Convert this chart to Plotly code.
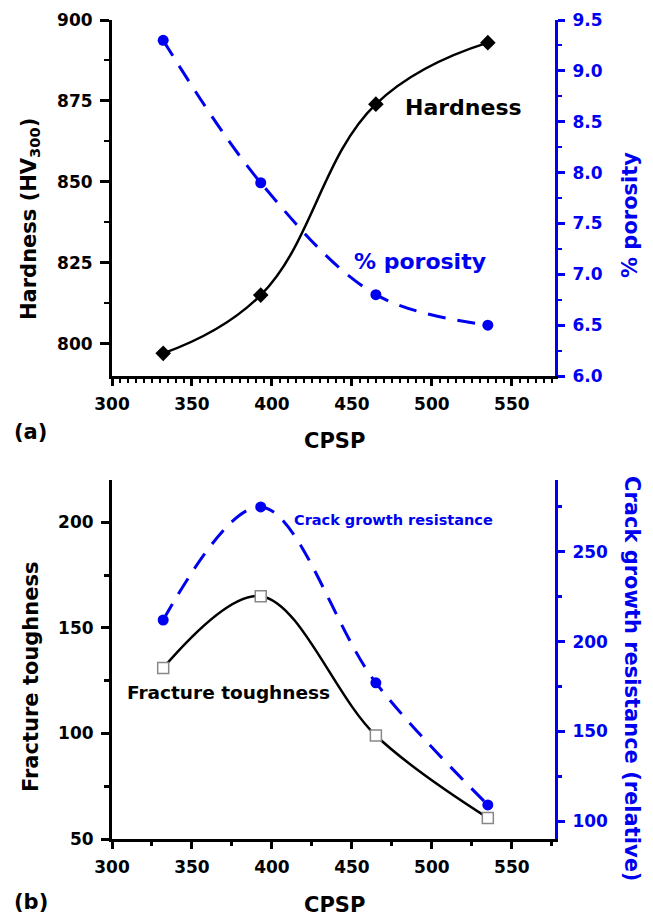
import plotly.graph_objects as go

# ---- data ----
cpsp = [332, 393, 465, 535]
hardness = [797, 815, 874, 893]
porosity = [9.3, 7.9, 6.8, 6.5]
fracture_toughness = [131, 165, 99, 60]
crack_growth = [212, 275, 177, 109]

x_ticks = [300, 350, 400, 450, 500, 550]

W, H = 653, 916
BLUE = "#0000F0"
FONT = "DejaVu Sans, Liberation Sans, Arial, sans-serif"

def px_x(p):
    return p / W

def px_y(p):
    return 1 - p / H

xdom = [px_x(112), px_x(555)]
ya_dom = [px_y(376), px_y(20)]
yb_dom = [px_y(839), px_y(480)]

fig = go.Figure()

# panel (a)
fig.add_trace(go.Scatter(x=cpsp, y=hardness, xaxis="x", yaxis="y",
                         mode="lines+markers", line=dict(color="black", width=2.5, shape="spline", smoothing=1.2),
                         marker=dict(symbol="diamond", size=12, color="black"), showlegend=False))
fig.add_trace(go.Scatter(x=cpsp, y=porosity, xaxis="x", yaxis="y2",
                         mode="lines+markers", line=dict(color=BLUE, width=3, shape="spline", dash="18px,12px"),
                         marker=dict(symbol="circle", size=11, color=BLUE), showlegend=False))
# panel (b)
fig.add_trace(go.Scatter(x=cpsp, y=fracture_toughness, xaxis="x2", yaxis="y3",
                         mode="lines+markers", line=dict(color="black", width=2.5, shape="spline"),
                         marker=dict(symbol="square", size=11, color="white", line=dict(color="#888888", width=1.5)),
                         showlegend=False))
fig.add_trace(go.Scatter(x=cpsp, y=crack_growth, xaxis="x2", yaxis="y4",
                         mode="lines+markers", line=dict(color=BLUE, width=3, shape="spline", dash="18px,12px"),
                         marker=dict(symbol="circle", size=11, color=BLUE), showlegend=False))

tickfont = dict(family=FONT, size=17, color="black", weight="bold")
tickfont_b = dict(family=FONT, size=17, color=BLUE, weight="bold")

xcommon = dict(range=[300, 577], tickvals=x_ticks, showgrid=False, zeroline=False, automargin=False,
               showline=True, linecolor="black", linewidth=3, tickcolor="black", tickwidth=2.5)

layout = dict(
    width=W, height=H, margin=dict(l=0, r=0, t=0, b=0, autoexpand=False),
    paper_bgcolor="white", plot_bgcolor="white",
    xaxis=dict(**xcommon, domain=xdom, anchor="y", ticks="outside", ticklen=7,
               tickfont=tickfont, ticklabelstandoff=4,
               minor=dict(ticks="outside", ticklen=4, dtick=5, tickcolor="black", tickwidth=2)),
    xaxis3=dict(**xcommon, overlaying="x", side="top", anchor="y", ticks="inside", ticklen=7,
                showticklabels=False,
                minor=dict(ticks="inside", ticklen=4, dtick=5, tickcolor="black", tickwidth=2)),
    yaxis=dict(domain=ya_dom, anchor="x", range=[790, 900], tick0=800, dtick=25, automargin=False,
               showgrid=False, zeroline=False, showline=True, linecolor="black", linewidth=3,
               ticks="outside", ticklen=9, tickwidth=2.5, tickcolor="black", tickfont=tickfont,
               ticklabelstandoff=4,
               minor=dict(ticks="outside", ticklen=5, dtick=12.5, tickcolor="black", tickwidth=2)),
    yaxis2=dict(overlaying="y", side="right", anchor="x", range=[6, 9.5], dtick=0.5, tick0=6,
                tickformat=".1f", showgrid=False, zeroline=False, showline=True, linecolor=BLUE,
                linewidth=3, ticks="outside", ticklen=7, tickwidth=2.5, tickcolor=BLUE, automargin=False,
                tickfont=tickfont_b, ticklabelstandoff=4,
                minor=dict(ticks="outside", ticklen=4, dtick=0.25, tickcolor=BLUE, tickwidth=2)),
    xaxis2=dict(**xcommon, domain=xdom, anchor="y3", ticks="outside", ticklen=7,
                tickfont=tickfont, ticklabelstandoff=4,
                minor=dict(ticks="outside", ticklen=4, dtick=25, tickcolor="black", tickwidth=2.5)),
    xaxis4=dict(**xcommon, overlaying="x2", side="top", anchor="y3", ticks="inside", ticklen=6,
                showticklabels=False,
                minor=dict(ticks="inside", ticklen=6, dtick=25, tickcolor="black", tickwidth=2.5)),
    yaxis3=dict(domain=yb_dom, anchor="x2", range=[50, 220], tick0=50, dtick=50, automargin=False,
                showgrid=False, zeroline=False, showline=True, linecolor="black", linewidth=3,
                ticks="outside", ticklen=8, tickwidth=2.5, tickcolor="black", tickfont=tickfont,
                ticklabelstandoff=4,
                minor=dict(ticks="outside", ticklen=5, dtick=25, tickcolor="black", tickwidth=2.5)),
    yaxis4=dict(overlaying="y3", side="right", anchor="x2", range=[90, 290], tick0=100, dtick=50,
                showgrid=False, zeroline=False, showline=True, linecolor=BLUE, automargin=False,
                linewidth=3, ticks="outside", ticklen=7, tickwidth=2.5, tickcolor=BLUE,
                tickfont=tickfont_b, ticklabelstandoff=4,
                minor=dict(ticks="outside", ticklen=4, dtick=25, tickcolor=BLUE, tickwidth=2.5)),
)
fig.update_layout(**layout)

def ann(text, x, y, size, color="black", angle=0):
    fig.add_annotation(text=text, x=px_x(x), y=px_y(y), xref="paper", yref="paper",
                       showarrow=False, textangle=angle, xanchor="center", yanchor="middle",
                       font=dict(family=FONT, size=size, color=color, weight="bold"))

# axis titles
ann("Hardness (HV<sub>300</sub>)", 30, 219, 21, angle=-90)
ann("% porosity", 630, 215, 21, color=BLUE, angle=-90)
ann("CPSP", 334, 441, 21)
ann("(a)", 30, 432, 21)
ann("Fracture toughness", 31, 677, 21, angle=-90)
ann("Crack growth resistance (relative)", 632, 678, 21, color=BLUE, angle=90)
ann("CPSP", 334, 905, 21)
ann("(b)", 31, 902, 21)

# in-plot labels
ann("Hardness", 463, 108, 22)
ann("% porosity", 420, 261, 22, color=BLUE)
ann("Crack growth resistance", 393, 520, 14.5, color=BLUE)
ann("Fracture toughness", 228, 692, 18.5)

fig.write_html("out.html",
               post_script="document.body.style.margin='0';document.body.style.overflow='hidden';")
